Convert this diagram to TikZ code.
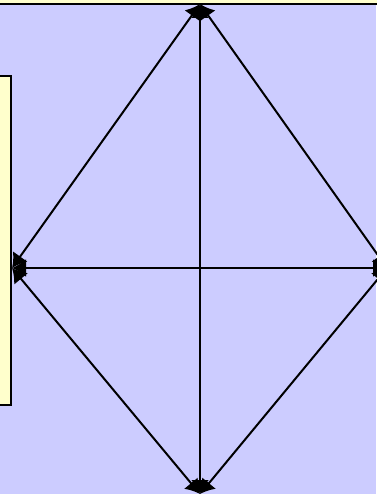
\documentclass[tikz,border=0pt]{standalone}
\usepackage{xcolor}
\usetikzlibrary{arrows.meta,positioning}

\definecolor{lavender}{RGB}{204,204,255}
\definecolor{paleyellow}{RGB}{255,255,204}

\begin{document}
\begin{tikzpicture}[
        x=1pt, y=-1pt,
        box/.style={draw, fill=paleyellow, line width=1.6pt, rectangle, inner sep=0pt},
        link/.style={<->, line width=2pt},
        >={Latex[length=14pt,width=18pt]}
    ]
        \useasboundingbox (0,0) rectangle (376,494);
        \fill[lavender] (0,0) rectangle (376,494);
        % boxes cut by the frame
        \node[box, minimum width=420pt, minimum height=24pt] (topbox) at (188,-8) {};
        \node[box, minimum width=22pt, minimum height=329pt] (leftbox) at (0,240.5) {};
        % end points of the links
        \coordinate (top) at (200,4);
        \coordinate (left) at (12,268);
        \coordinate (right) at (387,268);
        \coordinate (bottom) at (200,494);
        \draw[link] (top) -- (left);
        \draw[link] (top) -- (right);
        \draw[link] (top) -- (bottom);
        \draw[link] (left) -- (right);
        \draw[link] (left) -- (bottom);
        \draw[link] (right) -- (bottom);
    \end{tikzpicture}
\end{document}
